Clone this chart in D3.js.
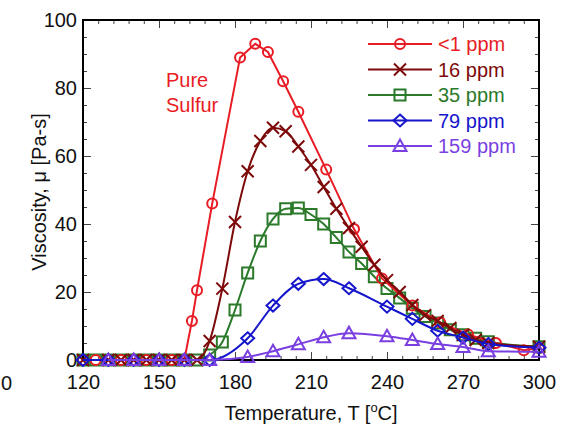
<!DOCTYPE html>
<html>
<head>
<meta charset="utf-8">
<script src="https://cdn.jsdelivr.net/npm/d3@7"></script>
<style>
  body { margin: 0; background: #fff; }
  text { font-family: Arial, "Liberation Sans", sans-serif; }
</style>
</head>
<body>
<div id="chart"></div>
<script>
// series (temperature in C, viscosity in Pa-s)
const redT   = [120,125,130,135,140,145,150,155,160,163,165,171,182,188,193,199,205,216,227,238,250,261,272,283,294,300];
const redV   = [0,0,0,0,0,0,0,0,0,11.5,20.5,46,89,93,90.6,82,73,56,38.5,24,16,11,7.5,5,2.9,3.5];

const dkT    = [120,130,135,140,145,150,155,160,165,170,175,180,185,190,195,200,205,210,215,220,225,230,235,240,245,250,255,260,265,270,275,280,300];
const dkV    = [0,0,0,0,0,0,0,0,0,5.6,21,40.6,55.5,64.4,68.3,67.3,62.8,57.4,50.9,44.5,38.8,33.3,28,23.5,20,16.2,13.2,11.5,9.4,7.4,5.9,5,3.9];

const grT    = [120,125,130,135,140,145,150,155,160,165,170,175,180,185,190,195,200,205,210,215,220,225,230,235,240,245,250,255,260,265,270,275,280,300];
const grV    = [0,0,0,0,0,0,0,0,0,0,1.5,5.3,14.7,25.6,35,41.5,44.5,44.7,42.8,40,36,31.8,28.4,24.5,21,18.2,15.2,12.8,10.9,8.9,7.4,6.4,5.4,3.9];

const blT    = [120,130,140,150,160,170,185,195,205,215,225,240,250,260,270,280,300];
const blV    = [0,0,0,0,0,0,6.4,16,22.4,23.8,21.1,15.7,12.1,8.6,6.6,4.7,3.6];

const puT    = [130,140,150,160,170,185,195,205,215,225,240,250,260,270,280,300];
const puV    = [0,0,0,0,0,0.9,2.6,4.6,6.7,7.9,7,5.9,4.7,3.8,2.6,2.4];

const seriesNames = ["<1 ppm","16 ppm","35 ppm","79 ppm","159 ppm"];
const xTicks = [120,150,180,210,240,270,300];
const yTicks = [0,20,40,60,80,100];

const w = 572, h = 428;
const pLeft = 83, pRight = 539, pTop = 20, pBottom = 360;

const svg = d3.select("#chart").append("svg")
  .attr("width", w).attr("height", h);

const x = d3.scaleLinear().domain([120, 300]).range([pLeft, pRight]);
const y = d3.scaleLinear().domain([0, 100]).range([pBottom, pTop]);

// minor ticks
const xMinor = d3.range(120, 301, 6);
const yMinor = d3.range(0, 101, 5);

function tickAxis(axis, pos, vals, size, labels) {
  const g = svg.append("g").attr("transform", pos)
    .call(axis.tickValues(vals).tickSizeInner(size).tickSizeOuter(0)
      .tickFormat(labels ? d3.format("d") : ""));
  g.select(".domain").remove();
  g.selectAll("line").attr("stroke", "#444").attr("stroke-width", 1);
  return g;
}

tickAxis(d3.axisBottom(x), "translate(0," + pBottom + ")", xMinor, -4, false);
tickAxis(d3.axisTop(x), "translate(0," + pTop + ")", xMinor, -4, false);
tickAxis(d3.axisLeft(y), "translate(" + pLeft + ",0)", yMinor, -4, false);
tickAxis(d3.axisRight(y), "translate(" + pRight + ",0)", yMinor, -4, false);

const xAx = tickAxis(d3.axisBottom(x).tickPadding(15), "translate(0," + pBottom + ")", xTicks, -8, true);
tickAxis(d3.axisTop(x), "translate(0," + pTop + ")", xTicks, -8, false);
const yAx = tickAxis(d3.axisLeft(y).tickPadding(6), "translate(" + pLeft + ",0)", yTicks, -8, true);
tickAxis(d3.axisRight(y), "translate(" + pRight + ",0)", yTicks, -8, false);

xAx.selectAll("text").attr("font-size", 20).attr("fill", "#111")
  .style("font-family", "Arial, 'Liberation Sans', sans-serif");
yAx.selectAll("text").attr("font-size", 20).attr("fill", "#111")
  .style("font-family", "Arial, 'Liberation Sans', sans-serif");

// frame
svg.append("rect")
  .attr("x", pLeft).attr("y", pTop)
  .attr("width", pRight - pLeft).attr("height", pBottom - pTop)
  .attr("fill", "none").attr("stroke", "#000").attr("stroke-width", 2);

// marker shapes
const shapes = {
  circle: (cx, cy) => `M${cx + 5},${cy}A5,5 0 1,1 ${cx - 5},${cy}A5,5 0 1,1 ${cx + 5},${cy}Z`,
  x: (cx, cy) => `M${cx - 6},${cy - 6}L${cx + 6},${cy + 6}M${cx - 6},${cy + 6}L${cx + 6},${cy - 6}`,
  square: (cx, cy) => `M${cx - 5.5},${cy - 5.5}h11v11h-11Z`,
  diamond: (cx, cy) => `M${cx},${cy - 6}L${cx + 6.5},${cy}L${cx},${cy + 6}L${cx - 6.5},${cy}Z`,
  triangle: (cx, cy) => `M${cx},${cy - 6.5}L${cx + 6.5},${cy + 5}L${cx - 6.5},${cy + 5}Z`
};

const series = [
  { name: seriesNames[2], t: grT, v: grV, color: "#2a7a2a", shape: "square", curve: d3.curveMonotoneX },
  { name: seriesNames[0], t: redT, v: redV, color: "#e81c24", shape: "circle", curve: d3.curveLinear },
  { name: seriesNames[1], t: dkT, v: dkV, color: "#7d0a0a", shape: "x", curve: d3.curveMonotoneX },
  { name: seriesNames[3], t: blT, v: blV, color: "#1515cc", shape: "diamond", curve: d3.curveMonotoneX },
  { name: seriesNames[4], t: puT, v: puV, color: "#7a3fe0", shape: "triangle", curve: d3.curveMonotoneX }
];

series.forEach(s => {
  const pts = s.t.map((t, i) => [t, s.v[i]]);
  const line = d3.line().x(d => x(d[0])).y(d => y(d[1])).curve(s.curve);
  svg.append("path").datum(pts)
    .attr("d", line)
    .attr("fill", "none").attr("stroke", s.color).attr("stroke-width", 2);
  svg.selectAll(null).data(pts).enter().append("path")
    .attr("d", d => shapes[s.shape](x(d[0]), y(d[1])))
    .attr("fill", "none").attr("stroke", s.color).attr("stroke-width", 2);
});

// legend
const legendOrder = [1, 2, 0, 3, 4];
legendOrder.forEach((k, i) => {
  const s = series[k];
  const ly = 44 + i * 25.5;
  svg.append("line").attr("x1", 368).attr("x2", 432).attr("y1", ly).attr("y2", ly)
    .attr("stroke", s.color).attr("stroke-width", 2);
  svg.append("path").attr("d", shapes[s.shape](400, ly))
    .attr("fill", "none").attr("stroke", s.color).attr("stroke-width", 2);
  svg.append("text").attr("x", 438).attr("y", ly).attr("dy", "0.35em")
    .attr("font-size", 20).attr("fill", s.color).text(s.name);
});

// annotation
svg.append("text").attr("x", 166).attr("y", 87).attr("font-size", 20)
  .attr("fill", "#e81c24").text("Pure");
svg.append("text").attr("x", 166).attr("y", 112).attr("font-size", 20)
  .attr("fill", "#e81c24").text("Sulfur");

// axis titles
const xt = svg.append("text").attr("x", 311).attr("y", 420)
  .attr("text-anchor", "middle").attr("font-size", 20).attr("fill", "#111");
xt.append("tspan").text("Temperature, T [");
xt.append("tspan").attr("font-size", 13).attr("dy", -8).text("o");
xt.append("tspan").attr("dy", 8).text("C]");

svg.append("text")
  .attr("transform", "translate(46,192) rotate(-90)")
  .attr("text-anchor", "middle").attr("font-size", 20).attr("fill", "#111")
  .text("Viscosity, \u03bc [Pa-s]");

// stray label at the left edge
svg.append("text").attr("x", 1).attr("y", 390)
  .attr("font-size", 20).attr("fill", "#111").text("0");
</script>
</body>
</html>
